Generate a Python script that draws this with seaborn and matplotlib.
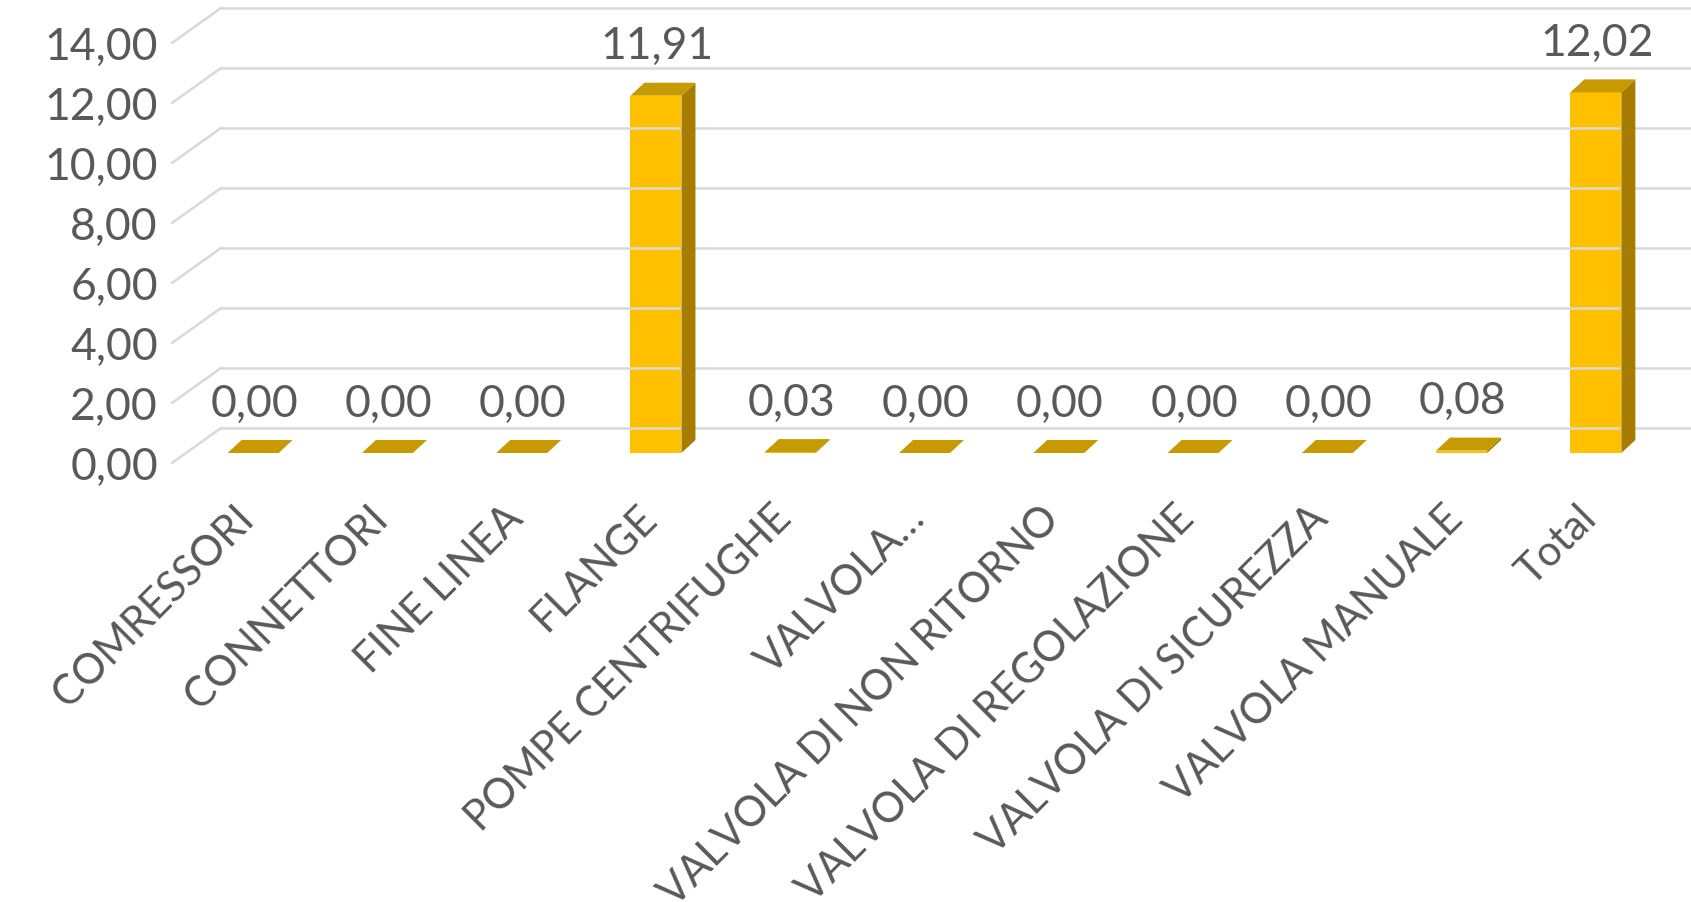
import numpy as np
import pandas as pd
import matplotlib
matplotlib.use("Agg")
import matplotlib.pyplot as plt
from matplotlib.patches import Polygon
from matplotlib.lines import Line2D
from matplotlib.transforms import IdentityTransform
import seaborn as sns

# ---- data ----
categories = [
    "COMRESSORI", "CONNETTORI", "FINE LINEA", "FLANGE", "POMPE CENTRIFUGHE",
    "VALVOLA…", "VALVOLA DI NON RITORNO", "VALVOLA DI REGOLAZIONE",
    "VALVOLA DI SICUREZZA", "VALVOLA MANUALE", "Total",
]
values = [0.00, 0.00, 0.00, 11.91, 0.03, 0.00, 0.00, 0.00, 0.00, 0.08, 12.02]
y_ticks = [0, 2, 4, 6, 8, 10, 12, 14]

# ---- style ----
FRONT = "#FFC000"
SIDE = "#A67D00"
TOP = "#C69A00"
GRID = "#D9D9D9"
TEXT = "#595959"
FONT = "Lato"
FS_NUM = 32
FS_CAT = 30

sns.set_theme(style="white")
plt.rcParams["font.family"] = [FONT, "DejaVu Sans"]

W, H, DPI = 1691, 902, 100
fig = plt.figure(figsize=(W / DPI, H / DPI), dpi=DPI)
fig.patch.set_facecolor("white")

# axes box in pixels (from top-left) for the plane of the bar fronts
px_left, px_right, px_top, px_bottom = 186.0, 1663.0, 33.0, 453.0
ax = fig.add_axes([px_left / W, (H - px_bottom) / H,
                   (px_right - px_left) / W, (px_bottom - px_top) / H])
ax.set_facecolor("none")

df = pd.DataFrame({"categoria": categories, "valore": values})
sns.barplot(data=df, x="categoria", y="valore", color=FRONT, saturation=1,
            width=0.38, linewidth=0, ax=ax, zorder=3)

ax.set_xlim(-0.5, len(categories) - 0.5)
ax.set_ylim(0, 14)
for s in ax.spines.values():
    s.set_visible(False)
ax.set_xlabel("")
ax.set_ylabel("")
ax.set_yticks([])
ax.set_xticks([])
ax.grid(False)

# category labels, rotated, ending just under each bar
for i, name in enumerate(categories):
    ax.annotate(name, xy=(i, 0), xytext=(-19, -46), textcoords="offset pixels",
                rotation=45, rotation_mode="anchor", ha="right", va="top",
                fontsize=FS_CAT, color=TEXT, annotation_clip=False)

# 3D look: offsets in display pixels (x right, y up)
BACK = np.array([35.0, 25.0])      # bar front plane -> back wall
FLOOR = np.array([-14.0, -10.0])   # bar front plane -> floor front edge
DEPTH = np.array([14.0, 13.0])     # bar thickness
wall_left = -0.5
grid_right = 10.6

to_px = ax.transData.transform
ident = IdentityTransform()

for v in y_ticks:
    p0 = to_px((wall_left, v))
    p1 = to_px((grid_right, v))
    # horizontal gridline on the back wall
    fig.add_artist(Line2D([p0[0] + BACK[0], p1[0] + BACK[0]],
                          [p0[1] + BACK[1], p1[1] + BACK[1]],
                          color=GRID, lw=1.8, transform=ident, zorder=1))
    # receding line on the side wall
    fig.add_artist(Line2D([p0[0] + FLOOR[0], p0[0] + BACK[0]],
                          [p0[1] + FLOOR[1], p0[1] + BACK[1]],
                          color=GRID, lw=1.8, transform=ident, zorder=1))
    # value axis label at the front edge
    fig.text(158 / W, (p0[1] + FLOOR[1] - 4) / H, f"{v:.2f}".replace(".", ","),
             ha="right", va="center", fontsize=FS_NUM, color=TEXT)

# side and top faces of each bar
for rect in ax.patches:
    x0, w, h = rect.get_x(), rect.get_width(), rect.get_height()
    bl = to_px((x0, 0)); br = to_px((x0 + w, 0))
    tl = to_px((x0, h)); tr = to_px((x0 + w, h))
    side = [br, tr, tr + DEPTH, br + DEPTH]
    top = [tl, tr, tr + DEPTH, tl + DEPTH]
    fig.add_artist(Polygon(side, closed=True, facecolor=SIDE, edgecolor="none",
                           transform=ident, zorder=4))
    fig.add_artist(Polygon(top, closed=True, facecolor=TOP, edgecolor="none",
                           transform=ident, zorder=4))

# value labels
for i, v in enumerate(values):
    ax.annotate(f"{v:.2f}".replace(".", ","), xy=(i, v), xytext=(1, 49),
                textcoords="offset pixels", ha="center", va="center",
                fontsize=FS_NUM, color=TEXT, annotation_clip=False)

fig.savefig("out.png", dpi=DPI, facecolor="white")
